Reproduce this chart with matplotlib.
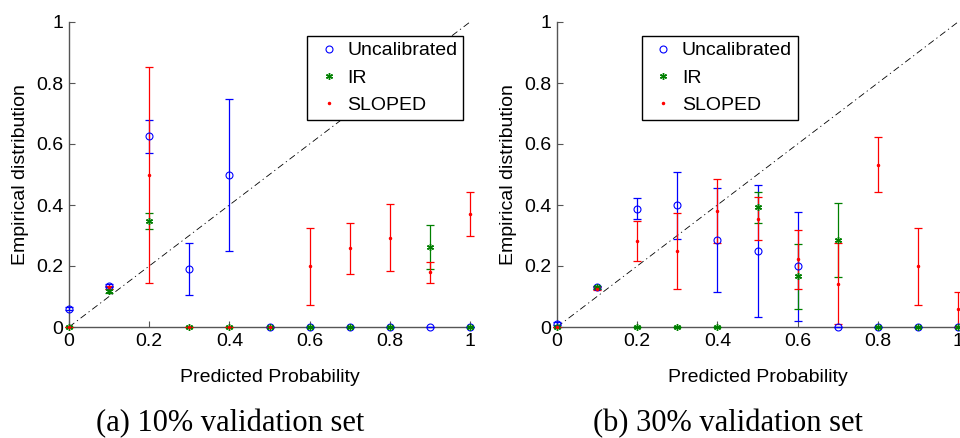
import matplotlib
matplotlib.use('Agg')
import matplotlib.pyplot as plt

# predicted probability bins
x = [0, 0.1, 0.2, 0.3, 0.4, 0.5, 0.6, 0.7, 0.8, 0.9, 1.0]

# (a) 10% validation set
unc_a = [0.06, 0.135, 0.625, 0.19, 0.50, 0, 0, 0, 0, 0, 0]
unc_a_lo = [0.055, 0.13, 0.57, 0.104, 0.249, 0, 0, 0, 0, 0, 0]
unc_a_hi = [0.065, 0.14, 0.68, 0.275, 0.749, 0, 0, 0, 0, 0, 0]
ir_a = [0, 0.118, 0.348, 0, 0, 0, 0, 0, 0, 0.262, 0]
ir_a_lo = [0, 0.11, 0.321, 0, 0, 0, 0, 0, 0, 0.191, 0]
ir_a_hi = [0, 0.125, 0.375, 0, 0, 0, 0, 0, 0, 0.333, 0]
sl_a = [0, 0.13, 0.50, 0, 0, 0, 0.20, 0.259, 0.293, 0.18, 0.372]
sl_a_lo = [0, 0.125, 0.145, 0, 0, 0, 0.073, 0.174, 0.184, 0.145, 0.298]
sl_a_hi = [0, 0.135, 0.852, 0, 0, 0, 0.325, 0.342, 0.404, 0.213, 0.444]

# (b) 30% validation set
unc_b = [0.01, 0.13, 0.388, 0.399, 0.285, 0.249, 0.199, 0, 0, 0, 0]
unc_b_lo = [0.005, 0.125, 0.353, 0.29, 0.114, 0.033, 0.02, 0, 0, 0, 0]
unc_b_hi = [0.015, 0.135, 0.422, 0.508, 0.456, 0.467, 0.378, 0, 0, 0, 0]
ir_b = [0, 0.13, 0, 0, 0, 0.393, 0.166, 0.285, 0, 0, 0]
ir_b_lo = [0, 0.125, 0, 0, 0, 0.342, 0.058, 0.164, 0, 0, 0]
ir_b_hi = [0, 0.135, 0, 0, 0, 0.443, 0.273, 0.407, 0, 0, 0]
sl_b = [0, 0.125, 0.282, 0.25, 0.38, 0.355, 0.224, 0.142, 0.532, 0.199, 0.058]
sl_b_lo = [0, 0.12, 0.215, 0.125, 0.274, 0.284, 0.125, 0.011, 0.442, 0.073, 0.0]
sl_b_hi = [0, 0.13, 0.348, 0.375, 0.485, 0.426, 0.319, 0.274, 0.623, 0.326, 0.115]

ticks = [0, 0.2, 0.4, 0.6, 0.8, 1]
tick_labels = ['0', '0.2', '0.4', '0.6', '0.8', '1']
names = ['Uncalibrated', 'IR', 'SLOPED']
captions = ['(a) 10% validation set', '(b) 30% validation set']

plt.rcParams['font.family'] = ['Liberation Sans', 'DejaVu Sans']

fig = plt.figure(figsize=(9.6, 4.38), dpi=100)
ax1 = fig.add_axes([69 / 960, 111 / 438, 401 / 960, 305 / 438])
ax2 = fig.add_axes([557 / 960, 111 / 438, 401 / 960, 305 / 438])


def panel(ax, series, leg_loc, leg_anchor):
    styles = [dict(color='#0000ff', marker='o', ms=5, mfc='none', mew=0.8),
              dict(color='#008000', marker=(6, 2, 0), ms=5, mew=1.0),
              dict(color='#ff0000', marker='.', ms=3)]
    ax.plot([0, 1], [0, 1], color='black', lw=0.6, dashes=(8, 4, 1.5, 4), zorder=1)
    for (y, lo, hi), st in zip(series, styles):
        err = [[v - l for v, l in zip(y, lo)], [h - v for v, h in zip(y, hi)]]
        ax.errorbar(x, y, yerr=err, fmt='none', ecolor=st['color'], elinewidth=0.9,
                    capsize=3, capthick=0.9, clip_on=False, zorder=3)
    for (y, lo, hi), st, nm in zip(series, styles, names):
        ax.plot(x, y, linestyle='none', label=nm, clip_on=False, zorder=4, **st)
    ax.set_xlim(0, 1)
    ax.set_ylim(0, 1)
    ax.set_xticks(ticks)
    ax.set_xticklabels(tick_labels)
    ax.set_yticks(ticks)
    ax.set_yticklabels(tick_labels)
    ax.tick_params(direction='in', length=4, width=0.8, color='#555555',
                   labelsize=14, pad=4)
    for s in ['top', 'right']:
        ax.spines[s].set_visible(False)
    for s in ['left', 'bottom']:
        ax.spines[s].set_color('#555555')
        ax.spines[s].set_linewidth(1.0)
    ax.set_xlabel('Predicted Probability', fontsize=14)
    ax.xaxis.set_label_coords(0.5, -0.167)
    ax.xaxis.label.set_va('center')
    ax.set_ylabel('Empirical distribution', fontsize=14)
    ax.yaxis.set_label_coords(-0.122, 0.5)
    ax.yaxis.label.set_va('center')
    leg = ax.legend(loc=leg_loc, bbox_to_anchor=leg_anchor, borderaxespad=0,
                    fontsize=14, frameon=True, fancybox=False, framealpha=1,
                    edgecolor='black', borderpad=0.3, labelspacing=0.5,
                    handlelength=1.6, handletextpad=0.15, numpoints=1)
    leg.get_frame().set_linewidth(1.0)


panel(ax1, [(unc_a, unc_a_lo, unc_a_hi), (ir_a, ir_a_lo, ir_a_hi), (sl_a, sl_a_lo, sl_a_hi)],
      'upper right', (0.983, 0.954))
panel(ax2, [(unc_b, unc_b_lo, unc_b_hi), (ir_b, ir_b_lo, ir_b_hi), (sl_b, sl_b_lo, sl_b_hi)],
      'upper left', (0.212, 0.954))

fig.text(230 / 960, 7 / 438, captions[0], ha='center', va='baseline',
         fontsize=22, family=['Liberation Serif', 'DejaVu Serif'])
fig.text(728 / 960, 7 / 438, captions[1], ha='center', va='baseline',
         fontsize=22, family=['Liberation Serif', 'DejaVu Serif'])

fig.savefig('out.png', dpi=100)
